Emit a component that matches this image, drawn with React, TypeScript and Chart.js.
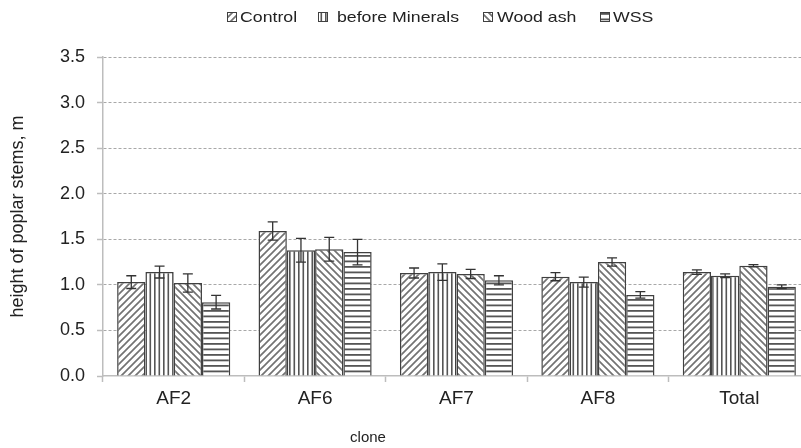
import React, { useEffect, useRef } from 'react';
import { Chart, registerables } from 'chart.js';

Chart.register(...registerables);

const categories = ['AF2', 'AF6', 'AF7', 'AF8', 'Total'];
const seriesNames = ['Control', 'before Minerals', 'Wood ash', 'WSS'];

const controlValues = [1.03, 1.59, 1.13, 1.09, 1.14];
const controlErrors = [0.07, 0.1, 0.055, 0.045, 0.025];
const mineralsValues = [1.14, 1.38, 1.14, 1.03, 1.1];
const mineralsErrors = [0.065, 0.13, 0.09, 0.055, 0.02];
const woodAshValues = [1.02, 1.39, 1.12, 1.25, 1.21];
const woodAshErrors = [0.1, 0.13, 0.05, 0.045, 0.012];
const wssValues = [0.81, 1.36, 1.05, 0.89, 0.98];
const wssErrors = [0.075, 0.14, 0.05, 0.035, 0.02];

const yMin = 0;
const yMax = 3.5;
const yStep = 0.5;

const xTitle = 'clone';
const yTitle = 'height of poplar stems, m';

const FONT = "'Liberation Sans', Arial, sans-serif";

function makePattern(kind: string): CanvasPattern | string {
  const c = document.createElement('canvas');
  const g = c.getContext('2d')!;
  const col = kind === 'v' || kind === 'h' ? '#555555' : '#737373';
  if (kind === 'fwd' || kind === 'back') {
    const s = 7;
    c.width = s; c.height = s;
    g.fillStyle = '#fff'; g.fillRect(0, 0, s, s);
    g.strokeStyle = col; g.lineWidth = 1.7;
    g.beginPath();
    if (kind === 'fwd') {
      g.moveTo(-1, s + 1); g.lineTo(s + 1, -1);
      g.moveTo(-1, 1); g.lineTo(1, -1);
      g.moveTo(s - 1, s + 1); g.lineTo(s + 1, s - 1);
    } else {
      g.moveTo(-1, -1); g.lineTo(s + 1, s + 1);
      g.moveTo(-1, s - 1); g.lineTo(1, s + 1);
      g.moveTo(s - 1, -1); g.lineTo(s + 1, 1);
    }
    g.stroke();
  } else if (kind === 'v') {
    c.width = 9; c.height = 4;
    g.fillStyle = '#fff'; g.fillRect(0, 0, 9, 4);
    g.fillStyle = col;
    g.fillRect(1, 0, 1.6, 4);
    g.fillRect(5.5, 0, 1.6, 4);
  } else {
    c.width = 4; c.height = 11;
    g.fillStyle = '#fff'; g.fillRect(0, 0, 4, 11);
    g.fillStyle = col;
    g.fillRect(0, 2, 4, 1.8);
    g.fillRect(0, 7.5, 4, 1.8);
  }
  const p = g.createPattern(c, 'repeat');
  return p || '#ccc';
}

const errorBarsPlugin = {
  id: 'errorBars',
  afterDatasetsDraw(chart: any) {
    const { ctx } = chart;
    const y = chart.scales.y;
    ctx.save();
    ctx.strokeStyle = '#333333';
    ctx.lineWidth = 1.3;
    chart.data.datasets.forEach((ds: any, i: number) => {
      const meta = chart.getDatasetMeta(i);
      meta.data.forEach((el: any, j: number) => {
        const v = ds.data[j];
        const e = ds.errors[j];
        const yt = y.getPixelForValue(v + e);
        const yb = y.getPixelForValue(v - e);
        const x = el.x;
        ctx.beginPath();
        ctx.moveTo(x, yt); ctx.lineTo(x, yb);
        ctx.moveTo(x - 5, yt); ctx.lineTo(x + 5, yt);
        ctx.moveTo(x - 5, yb); ctx.lineTo(x + 5, yb);
        ctx.stroke();
      });
    });
    ctx.restore();
  },
};

const legendPlugin = {
  id: 'customLegend',
  afterDraw(chart: any) {
    const ctx = chart.ctx;
    const iconX = [227, 318, 483, 600];
    const textX = [240, 337, 497, 613];
    chart.data.datasets.forEach((ds: any, i: number) => {
      ctx.save();
      ctx.fillStyle = '#ffffff';
      ctx.fillRect(iconX[i], 12, 10, 10);
      ctx.fillStyle = ds.backgroundColor;
      ctx.fillRect(iconX[i], 12, 10, 10);
      ctx.strokeStyle = '#404040';
      ctx.lineWidth = 1;
      ctx.strokeRect(iconX[i] + 0.5, 12.5, 9, 9);
      ctx.translate(textX[i], 17.5);
      ctx.scale(1.18, 1);
      ctx.font = `15px ${FONT}`;
      ctx.textBaseline = 'middle';
      ctx.textAlign = 'left';
      ctx.fillStyle = '#222222';
      ctx.fillText(ds.label, 0, 0);
      ctx.restore();
    });
  },
};

const xTitlePlugin = {
  id: 'xTitleText',
  afterDraw(chart: any) {
    const ctx = chart.ctx;
    ctx.save();
    ctx.font = `15px ${FONT}`;
    ctx.textAlign = 'center';
    ctx.textBaseline = 'middle';
    ctx.fillStyle = '#222222';
    ctx.fillText(xTitle, 368, 438);
    ctx.restore();
  },
};

export default function App() {
  const ref = useRef<HTMLCanvasElement | null>(null);

  useEffect(() => {
    if (!ref.current) return;
    Chart.defaults.font.family = FONT;
    const patterns = [makePattern('fwd'), makePattern('v'), makePattern('back'), makePattern('h')];
    const values = [controlValues, mineralsValues, woodAshValues, wssValues];
    const errors = [controlErrors, mineralsErrors, woodAshErrors, wssErrors];
    const chart = new Chart(ref.current, {
      type: 'bar',
      data: {
        labels: categories,
        datasets: seriesNames.map((name, i) => ({
          label: name,
          data: values[i],
          errors: errors[i],
          backgroundColor: patterns[i],
          borderColor: '#404040',
          borderWidth: 1.5,
          categoryPercentage: 0.8,
          barPercentage: 1.0,
        })) as any,
      },
      options: {
        responsive: false,
        animation: false,
        layout: { padding: { top: 57, right: 20, bottom: 0, left: 0 } },
        plugins: {
          legend: { display: false },
          tooltip: { enabled: false },
        },
        scales: {
          x: {
            grid: {
              display: true,
              drawOnChartArea: false,
              drawTicks: true,
              tickLength: 6,
              tickColor: '#bdbdbd',
              tickWidth: 1.5,
              offset: true,
            },
            border: { display: true, color: '#bdbdbd', width: 1.5 },
            ticks: { font: { size: 19, family: FONT }, color: '#222222', padding: 5 },
            afterFit: (s: any) => { s.height = 72; },
          },
          y: {
            min: yMin,
            max: yMax,
            ticks: {
              stepSize: yStep,
              callback: (v: any) => Number(v).toFixed(1),
              font: { size: 18, family: FONT },
              color: '#222222',
              padding: 12,
            },
            grid: {
              color: (c: any) => (c.tick && c.tick.value === 0 ? 'rgba(0,0,0,0)' : '#a8a8a8'),
              lineWidth: 1,
              tickLength: 6,
              tickColor: '#bdbdbd',
              tickWidth: 1.5,
            },
            border: { display: true, color: '#bdbdbd', width: 1.5, dash: [3, 2] },
            title: {
              display: true,
              text: yTitle,
              font: { size: 18, family: FONT },
              color: '#222222',
              padding: { top: 7, bottom: 0 },
            },
            afterFit: (s: any) => { s.width = 103; },
          },
        },
      } as any,
      plugins: [errorBarsPlugin, legendPlugin, xTitlePlugin],
    });
    return () => chart.destroy();
  }, []);

  return (
    <div style={{ position: 'fixed', left: 0, top: 0, width: 801, height: 448, overflow: 'hidden', background: '#ffffff' }}>
      <canvas ref={ref} width={830} height={448} style={{ display: 'block' }} />
    </div>
  );
}
